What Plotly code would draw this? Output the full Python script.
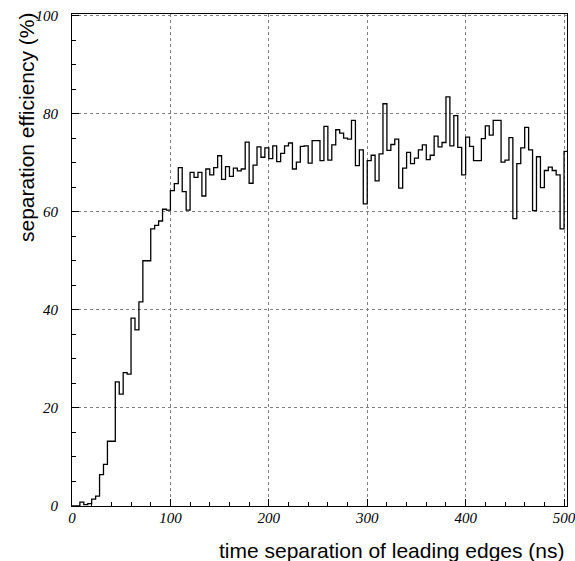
import plotly.graph_objects as go

BIN_WIDTH = 4  # ns
efficiency = [
    0, 0, 0.8, 0.3, 0.5, 1.4, 2.0, 6.4, 8.5, 13.2,
    13.2, 25.3, 22.8, 27.2, 26.9, 38.3, 35.9, 41.6, 50.0, 50.0,
    56.5, 57.2, 58.1, 60.5, 60.3, 64.3, 65.7, 69.0, 64.1, 60.3,
    68.0, 67.0, 68.0, 63.2, 68.7, 67.5, 69.0, 71.4, 66.6, 69.2,
    67.2, 68.9, 68.3, 68.7, 74.2, 65.8, 69.5, 73.2, 71.1, 73.0,
    70.8, 73.4, 70.2, 71.9, 73.4, 74.0, 68.7, 70.1, 73.3, 73.4,
    69.9, 74.5, 74.5, 70.4, 77.4, 70.5, 73.6, 76.7, 76.0, 75.0,
    74.8, 78.6, 69.4, 72.6, 61.6, 70.4, 71.5, 66.3, 71.8, 82.0,
    72.5, 73.7, 74.8, 64.8, 68.9, 72.1, 69.8, 70.9, 72.6, 73.6,
    70.6, 71.5, 75.4, 73.2, 74.1, 83.4, 73.4, 79.6, 73.1, 67.5,
    75.2, 73.3, 70.4, 70.4, 74.9, 77.5, 75.6, 78.6, 78.6, 70.1,
    70.5, 75.1, 58.6, 69.8, 73.0, 77.2, 72.6, 60.2, 71.2, 64.9,
    68.4, 69.1, 68.4, 67.5, 56.5, 72.3,
]
x_tick_vals = [0, 100, 200, 300, 400, 500]
y_tick_vals = [0, 20, 40, 60, 80, 100]
x_title = "time separation of leading edges (ns)"
y_title = "separation efficiency (%)"

edges = [i * BIN_WIDTH for i in range(len(efficiency) + 1)]
ys = efficiency + [efficiency[-1]]

fig = go.Figure()
fig.add_trace(go.Scatter(
    x=edges, y=ys, mode="lines", line_shape="hv",
    line=dict(color="black", width=1.3), showlegend=False, hoverinfo="skip",
))

tickfont = dict(family="Liberation Serif", size=15, color="black", style="italic")
common = dict(
    showline=True, linecolor="black", linewidth=1.2, mirror=True,
    showgrid=True, gridcolor="#808080", griddash="dot", gridwidth=1,
    zeroline=False, ticks="inside", ticklen=7, tickcolor="black",
    tickfont=tickfont, ticklabeloverflow="allow",
)
fig.update_xaxes(range=[0, 503], tickvals=x_tick_vals,
                 minor=dict(ticks="inside", dtick=20, ticklen=4, tickcolor="black", showgrid=False),
                 ticklabelstandoff=-2, **common)
fig.update_yaxes(range=[0, 100.3], tickvals=y_tick_vals,
                 minor=dict(ticks="inside", dtick=5, ticklen=4, tickcolor="black", showgrid=False),
                 ticklabelstandoff=10, **common)

fig.add_annotation(text=x_title, xref="paper", yref="paper", x=1.0, y=-0.09,
                   xanchor="right", yanchor="middle", showarrow=False,
                   font=dict(family="Liberation Sans", size=21, color="black"))
fig.add_annotation(text=y_title, xref="paper", yref="paper", x=-0.093, y=1.008,
                   xanchor="center", yanchor="top", textangle=-90, showarrow=False,
                   font=dict(family="Liberation Sans", size=21, color="black"))

fig.update_layout(
    width=575, height=561,
    margin=dict(l=72, r=8, t=14, b=55, autoexpand=False),
    paper_bgcolor="white", plot_bgcolor="white",
)
fig.write_html("out.html", config={"displayModeBar": False},
               post_script="document.body.style.margin='0px';")
